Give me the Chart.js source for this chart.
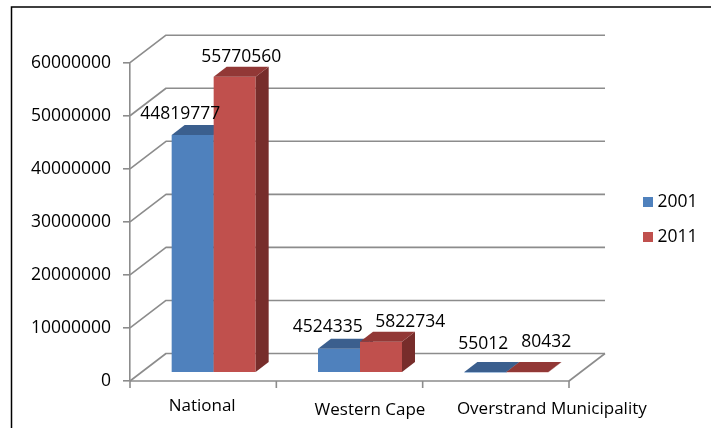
<!DOCTYPE html>
<html><head><meta charset="utf-8">
<script src="https://cdn.jsdelivr.net/npm/chart.js@4.4.1/dist/chart.umd.min.js"></script>
<style>html,body{margin:0;padding:0;background:#fff}#wrap{width:711px;height:428px;position:relative}canvas{display:block}</style>
</head><body><div id="wrap"><canvas id="c" width="711" height="428"></canvas></div>
<script>
// ---- data ----
const categories = ['National', 'Western Cape', 'Overstrand Municipality'];
const seriesNames = ['2001', '2011'];
const values2001 = [44819777, 4524335, 55012];
const values2011 = [55770560, 5822734, 80432];
const yTickValues = [0, 10000000, 20000000, 30000000, 40000000, 50000000, 60000000];

// ---- style ----
const FONT = '"Open Sans", "Liberation Sans", sans-serif';
const FRONT = ['#4F81BD', '#C0504D'];
const TOP = ['#3B5F8E', '#923836'];
const SIDE = ['#2F4D73', '#772D2B'];
const GRID = '#8c8c8c';
const WALL_DX = 36, WALL_DY = -27.5;      // depth of the back wall
const BAR_OFF_X = 10.5, BAR_OFF_Y = -8.3; // bars sit inside the floor
const BAR_DX = 13, BAR_DY = -10;          // depth of a bar
const labelNudgeX = [[-19, 0], [-17.7, 22.7], [-8.5, 12.5]];
const labelLift = [[11, 10], [12, 10], [18.4, 20.4]];
const catNudge = [[-1, 25], [20.5, 29], [56, 28]];

const threeD = {
  id: 'threeD',
  beforeDraw(chart) {
    const ctx = chart.ctx;
    ctx.save();
    ctx.fillStyle = '#fff';
    ctx.fillRect(0, 0, chart.width, chart.height);
    ctx.strokeStyle = '#000';
    ctx.lineWidth = 1.5;
    ctx.beginPath();
    ctx.moveTo(11.5, chart.height);
    ctx.lineTo(11.5, 7);
    ctx.lineTo(chart.width, 7);
    ctx.stroke();
    ctx.restore();
  },
  beforeDatasetsDraw(chart) {
    const ctx = chart.ctx, a = chart.chartArea, ys = chart.scales.y;
    ctx.save();
    ctx.strokeStyle = GRID;
    ctx.lineWidth = 1.6;
    ctx.lineJoin = 'round';
    yTickValues.forEach(v => {
      const y = ys.getPixelForValue(v);
      ctx.beginPath();
      ctx.moveTo(a.left, y);
      ctx.lineTo(a.left + WALL_DX, y + WALL_DY);
      ctx.lineTo(a.right + WALL_DX, y + WALL_DY);
      ctx.stroke();
    });
    ctx.beginPath();
    ctx.moveTo(a.left, a.bottom);
    ctx.lineTo(a.right, a.bottom);
    ctx.lineTo(a.right + WALL_DX, a.bottom + WALL_DY);
    ctx.stroke();
    const n = categories.length;
    for (let i = 0; i <= n; i++) {
      const x = a.left + i * (a.right - a.left) / n;
      ctx.beginPath();
      ctx.moveTo(x, a.bottom);
      ctx.lineTo(x, a.bottom + 7);
      ctx.stroke();
    }
    ctx.restore();

    // bars, drawn in series order (left bar first) with depth faces
    ctx.save();
    ctx.translate(BAR_OFF_X, BAR_OFF_Y);
    chart.data.datasets.forEach((ds, di) => {
      chart.getDatasetMeta(di).data.forEach(el => {
        el.draw(ctx);
        const p = el.getProps(['x', 'y', 'base', 'width'], true);
        const x0 = p.x - p.width / 2, x1 = p.x + p.width / 2;
        const yt = Math.min(p.y, p.base), yb = Math.max(p.y, p.base);
        ctx.fillStyle = SIDE[di];
        ctx.beginPath();
        ctx.moveTo(x1, yt); ctx.lineTo(x1 + BAR_DX, yt + BAR_DY);
        ctx.lineTo(x1 + BAR_DX, yb + BAR_DY); ctx.lineTo(x1, yb);
        ctx.closePath(); ctx.fill();
        ctx.fillStyle = TOP[di];
        ctx.beginPath();
        ctx.moveTo(x0, yt); ctx.lineTo(x1, yt);
        ctx.lineTo(x1 + BAR_DX, yt + BAR_DY); ctx.lineTo(x0 + BAR_DX, yt + BAR_DY);
        ctx.closePath(); ctx.fill();
      });
    });
    ctx.restore();
    return false;
  },
  afterDraw(chart) {
    const ctx = chart.ctx, a = chart.chartArea;
    ctx.save();
    ctx.fillStyle = '#000';
    ctx.textAlign = 'center';
    ctx.textBaseline = 'middle';
    ctx.font = '17.5px ' + FONT;
    chart.data.datasets.forEach((ds, di) => {
      chart.getDatasetMeta(di).data.forEach((el, i) => {
        const p = el.getProps(['x', 'y'], true);
        const x = p.x + BAR_OFF_X + BAR_DX / 2 + labelNudgeX[i][di];
        const y = p.y + BAR_OFF_Y + BAR_DY - labelLift[i][di];
        ctx.fillText(String(ds.data[i]), x, y);
      });
    });
    ctx.font = '17px ' + FONT;
    const xs = chart.scales.x;
    categories.forEach((c, i) => {
      ctx.fillText(c, xs.getPixelForValue(i) + catNudge[i][0], a.bottom + catNudge[i][1]);
    });
    ctx.textAlign = 'left';
    ctx.font = '17.5px ' + FONT;
    const legY = [202, 237];
    chart.data.datasets.forEach((ds, di) => {
      ctx.fillStyle = FRONT[di];
      ctx.fillRect(643, legY[di] - 5, 10, 10);
      ctx.fillStyle = '#000';
      ctx.fillText(ds.label, 657.5, legY[di]);
    });
    ctx.restore();
  }
};

new Chart(document.getElementById('c'), {
  type: 'bar',
  data: {
    labels: categories,
    datasets: [
      { label: seriesNames[0], data: values2001, backgroundColor: FRONT[0], borderWidth: 0 },
      { label: seriesNames[1], data: values2011, backgroundColor: FRONT[1], borderWidth: 0 }
    ]
  },
  options: {
    responsive: false,
    devicePixelRatio: 1,
    animation: false,
    layout: { padding: { left: 0, top: 62.7, right: 142, bottom: 47 } },
    datasets: { bar: { barPercentage: 1, categoryPercentage: 0.574 } },
    plugins: { legend: { display: false }, tooltip: { enabled: false } },
    scales: {
      x: { display: false },
      y: {
        min: 0, max: 60000000,
        afterFit(s) { s.width = 130; },
        afterBuildTicks(s) { s.ticks = yTickValues.map(v => ({ value: v })); },
        border: { display: true, color: GRID, width: 1.6 },
        grid: { drawOnChartArea: false, drawTicks: true, tickLength: 7, color: GRID, lineWidth: 1.6 },
        ticks: { padding: 12, color: '#000', font: { family: FONT, size: 17.5 }, callback: v => String(v) }
      }
    }
  },
  plugins: [threeD]
});
</script>
</body></html>
